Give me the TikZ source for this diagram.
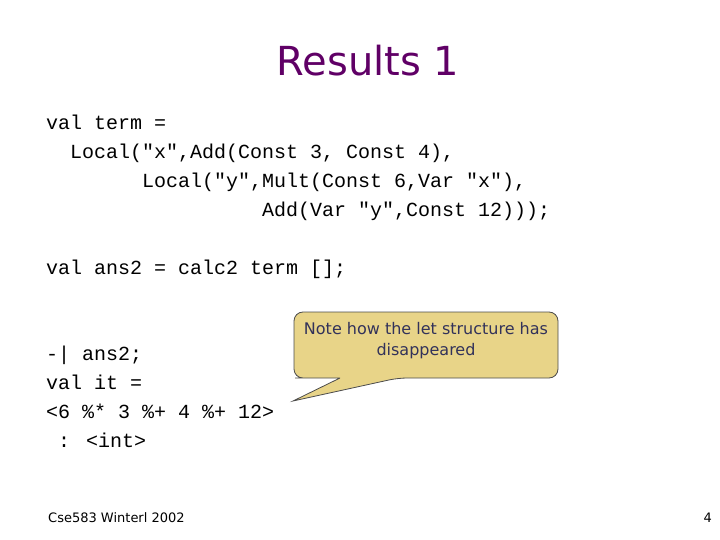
\documentclass[tikz,border=0pt]{standalone}
\usepackage{fontspec}
\setmainfont{DejaVu Sans}
\newfontfamily\codefont{Liberation Mono}
\begin{document}
\begin{tikzpicture}[x=1pt,y=-1pt,
  code/.style={anchor=base west,inner sep=0pt,font=\codefont\fontsize{20}{20}\selectfont},
  foot/.style={inner sep=0pt,font=\fontsize{13}{13}\selectfont}]
\definecolor{ttl}{RGB}{96,0,102}
\definecolor{callfill}{RGB}{232,212,136}
\definecolor{calltext}{RGB}{50,50,90}
\useasboundingbox (0,0) rectangle (720,540);
\node[anchor=base,inner sep=0pt,text=ttl,font=\fontsize{40}{40}\selectfont] (title) at (368,76) {Results 1};
\node[code] (l1) at (46,130) {val term =};
\node[code] (l2) at (70,159) {Local("x",Add(Const 3, Const 4),};
\node[code] (l3) at (142,188) {Local("y",Mult(Const 6,Var "x"),};
\node[code] (l4) at (262,217) {Add(Var "y",Const 12)));};
\node[code] (l5) at (46,274) {val ans2 = calc2 term [];};
\node[code] (l6) at (46,360) {-| ans2;};
\node[code] (l7) at (46,389) {val it =};
\node[code] (l8) at (46,418) {<6 \%* 3 \%+ 4 \%+ 12>};
\node[code] (l9) at (46,447) {\ : <int>};
\draw[fill=callfill,draw=black!70,line width=0.8pt,rounded corners=9pt]
  (340,378) -- (304,378) -- (294,378) -- (294,312) -- (558,312) -- (558,378) -- (398,378) [sharp corners] -- (293,401) -- (340,378);
\node[text=calltext,align=center,inner sep=0pt,font=\fontsize{16}{21}\selectfont] (note) at (426,341) {Note how the let structure has\\disappeared};
\node[foot,anchor=base west] (f1) at (48,522) {Cse583 Winterl 2002};
\node[foot,anchor=base east] (f2) at (712,522) {4};
\end{tikzpicture}
\end{document}
